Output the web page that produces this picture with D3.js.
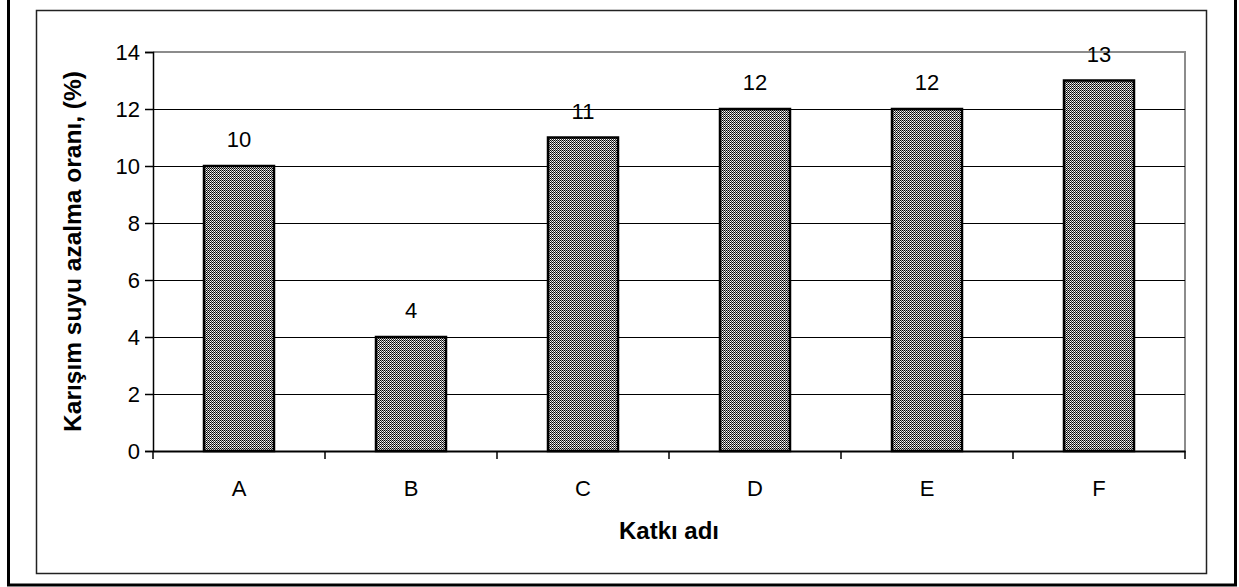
<!DOCTYPE html>
<html>
<head>
<meta charset="utf-8">
<script src="https://cdn.jsdelivr.net/npm/d3@7"></script>
<style>
  html, body { margin: 0; padding: 0; background: #fff; }
  svg { display: block; font-family: "Liberation Sans", Arial, sans-serif; }
</style>
</head>
<body>
<svg id="chart" width="1239" height="587"></svg>
<script>
// Water reduction ratio per admixture
const categories = ["A", "B", "C", "D", "E", "F"];
const values = [10, 4, 11, 12, 12, 13];
const yTicks = [0, 2, 4, 6, 8, 10, 12, 14];
const yTitle = "Karışım suyu azalma oranı, (%)";
const xTitle = "Katkı adı";

const svg = d3.select("#chart");
const plot = { left: 153, right: 1185, top: 52, bottom: 451 };
const FONT = "Liberation Sans, Arial, sans-serif";

// Fine grainy hatch used for the bar fill
const defs = svg.append("defs");
const pat = defs.append("pattern")
  .attr("id", "hatch")
  .attr("patternUnits", "userSpaceOnUse")
  .attr("width", 2).attr("height", 2);
pat.append("rect").attr("width", 2).attr("height", 2).attr("fill", "#fff");
pat.append("rect").attr("x", 0).attr("y", 0).attr("width", 1).attr("height", 1).attr("fill", "#000");
pat.append("rect").attr("x", 1).attr("y", 1).attr("width", 1).attr("height", 1).attr("fill", "#333");
pat.append("rect").attr("x", 1).attr("y", 0).attr("width", 1).attr("height", 1).attr("fill", "#bbb");

// Outer and inner frames
svg.append("rect")
  .attr("x", 8.5).attr("y", -3).attr("width", 1227).attr("height", 588)
  .attr("fill", "none").attr("stroke", "#000").attr("stroke-width", 3);
svg.append("rect")
  .attr("x", 36.5).attr("y", 10.5).attr("width", 1170).attr("height", 563)
  .attr("fill", "none").attr("stroke", "#222").attr("stroke-width", 1.5);

const x = d3.scaleBand()
  .domain(categories)
  .range([plot.left, plot.right])
  .paddingInner(0.593)
  .paddingOuter(0.2965);

const xBand = d3.scaleBand().domain(categories).range([plot.left, plot.right]);

const y = d3.scaleLinear().domain([0, 14]).range([plot.bottom, plot.top]);

// Plot area border (top and right in gray)
svg.append("path")
  .attr("d", `M${plot.left},${plot.top}H${plot.right}V${plot.bottom}`)
  .attr("fill", "none").attr("stroke", "#8c8c8c").attr("stroke-width", 2);

// Horizontal gridlines
svg.append("g")
  .selectAll("line")
  .data(yTicks.filter(d => d > 0 && d < 14))
  .join("line")
  .attr("x1", plot.left).attr("x2", plot.right)
  .attr("y1", d => Math.round(y(d)) + 0.5).attr("y2", d => Math.round(y(d)) + 0.5)
  .attr("stroke", "#000").attr("stroke-width", 1);

// Bars
svg.append("g")
  .selectAll("rect")
  .data(values)
  .join("rect")
  .attr("x", (d, i) => x(categories[i]))
  .attr("y", d => y(d))
  .attr("width", x.bandwidth())
  .attr("height", d => y(0) - y(d))
  .attr("fill", "url(#hatch)")
  .attr("stroke", "#000").attr("stroke-width", 2.5);

// Value labels
svg.append("g")
  .selectAll("text")
  .data(values)
  .join("text")
  .attr("x", (d, i) => x(categories[i]) + x.bandwidth() / 2)
  .attr("y", d => y(d) - 19)
  .attr("text-anchor", "middle")
  .attr("font-size", 22)
  .text(d => d);

// Y axis
const yAxis = svg.append("g")
  .attr("transform", `translate(${plot.left},0)`)
  .call(d3.axisLeft(y).tickValues(yTicks).tickSize(8).tickPadding(5).tickFormat(d3.format("d")));
yAxis.select(".domain").attr("stroke", "#000").attr("stroke-width", 1.5);
yAxis.selectAll(".tick line").attr("stroke", "#000").attr("stroke-width", 1.5);
yAxis.selectAll("text").attr("font-size", 22).attr("fill", "#000").attr("font-family", FONT);

// X axis with ticks at category boundaries
const xAxis = svg.append("g")
  .attr("transform", `translate(0,${plot.bottom})`)
  .call(d3.axisBottom(xBand).tickSize(0).tickPadding(29));
xAxis.select(".domain").attr("stroke", "#000").attr("stroke-width", 2);
xAxis.selectAll("text").attr("font-size", 22).attr("fill", "#000").attr("font-family", FONT);
xAxis.selectAll(".boundary")
  .data(categories.concat([null]))
  .join("line")
  .attr("class", "boundary")
  .attr("x1", (d, i) => plot.left + i * xBand.step())
  .attr("x2", (d, i) => plot.left + i * xBand.step())
  .attr("y1", 0).attr("y2", 8)
  .attr("stroke", "#000").attr("stroke-width", 1.5);

// Axis titles
svg.append("text")
  .attr("transform", `translate(81,${(plot.top + plot.bottom) / 2}) rotate(-90)`)
  .attr("text-anchor", "middle")
  .attr("font-size", 24.5).attr("font-weight", "bold")
  .text(yTitle);

svg.append("text")
  .attr("x", (plot.left + plot.right) / 2)
  .attr("y", 539)
  .attr("text-anchor", "middle")
  .attr("font-size", 24).attr("font-weight", "bold")
  .text(xTitle);
</script>
</body>
</html>
